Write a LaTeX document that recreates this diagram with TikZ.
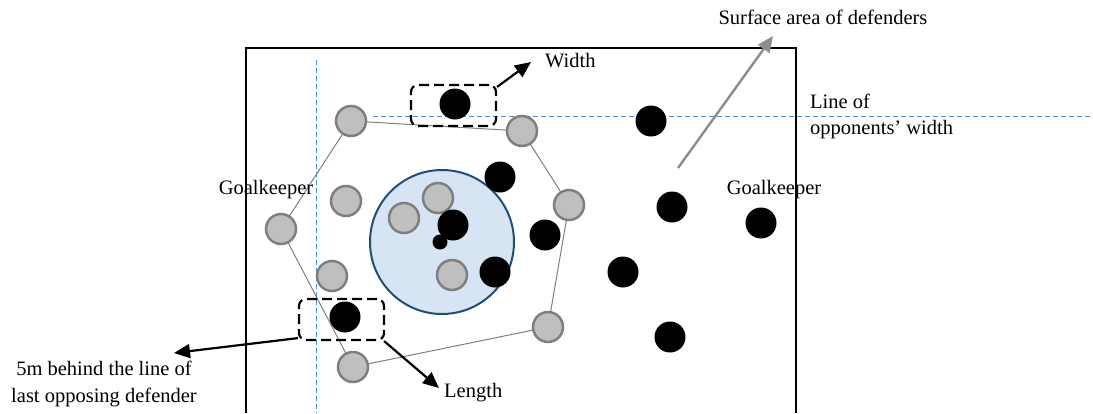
\documentclass[tikz,border=0pt]{standalone}
\usepackage{fontspec}
\setmainfont{Liberation Serif}
\usetikzlibrary{arrows.meta}
\definecolor{gfill}{HTML}{BFBFBF}
\definecolor{gline}{HTML}{7F7F7F}
\definecolor{zonefill}{HTML}{D6E4F3}
\definecolor{zoneline}{HTML}{1F4E79}
\definecolor{guide}{HTML}{4A90D9}
\definecolor{arrgray}{HTML}{8C8C8C}
\tikzset{
  gp/.style={circle, minimum size=30, inner sep=0, fill=gfill, draw=gline, line width=2.5},
  bp/.style={circle, minimum size=31, inner sep=0, fill=black},
  sbp/.style={circle, minimum size=15, inner sep=0, fill=black},
  zone/.style={circle, minimum size=144, inner sep=0, fill=zonefill, draw=zoneline, line width=2},
  dbox/.style={draw=black, dashed, dash pattern=on 10 off 5, line width=2.2, rounded corners=7, minimum width=85, minimum height=41, inner sep=0},
  lbl/.style={font=\fontsize{20.5}{24}\selectfont, inner sep=0},
  guideline/.style={guide, line width=1, dash pattern=on 5 off 3},
  poly/.style={gline, line width=1},
  arr/.style={line width=2.2, -{Triangle[length=16, width=14]}},
  garr/.style={arrgray, line width=2.4, -{Triangle[length=16, width=14]}}
}
\begin{document}
\begin{tikzpicture}[x=1pt, y=-1pt]
\useasboundingbox (0,0) rectangle (1093,413);
% field
\draw[line width=2] (246,413) -- (246,48) -- (796,48) -- (796,413);
% guide lines
\draw[guideline] (316,60) -- (316,413);
\draw[guideline] (373,116) -- (1093,116);
% gray player positions
\coordinate (c1) at (351,121);
\coordinate (c2) at (522,131);
\coordinate (c3) at (569,205);
\coordinate (c4) at (548,327);
\coordinate (c5) at (353,367);
\coordinate (c6) at (281,229);
\draw[poly] (c1) -- (c2) -- (c3) -- (c4) -- (c5) -- (c6) -- cycle;
% zone
\node[zone] (zone) at (442,242) {};
% gray players
\node[gp] (g1) at (c1) {};
\node[gp] (g2) at (c2) {};
\node[gp] (g3) at (c3) {};
\node[gp] (g4) at (c4) {};
\node[gp] (g5) at (c5) {};
\node[gp] (g6) at (c6) {};
\node[gp] (g7) at (346,201) {};
\node[gp] (g8) at (438,198) {};
\node[gp] (g9) at (404,218) {};
\node[gp] (g10) at (332,276) {};
\node[gp] (g11) at (452,275) {};
% black players
\node[bp] (b1) at (455,104) {};
\node[bp] (b2) at (651,121) {};
\node[bp] (b3) at (500,177) {};
\node[bp] (b4) at (453,225) {};
\node[sbp] (ball) at (440,242) {};
\node[bp] (b5) at (545,235) {};
\node[bp] (b6) at (495,272) {};
\node[bp] (b7) at (672,207) {};
\node[bp] (b8) at (761,223) {};
\node[bp] (b9) at (623,272) {};
\node[bp] (b10) at (670,337) {};
\node[bp] (b11) at (345,317) {};
% dashed boxes
\node[dbox] (wbox) at (453.5,105.5) {};
\node[dbox] (lbox) at (341.5,319.5) {};
% labels
\node[lbl, anchor=west] (wtxt) at (545,61) {Width};
\node[lbl, anchor=west] (ltxt) at (444,393) {Length};
\node[lbl] (gkl) at (266,190) {Goalkeeper};
\node[lbl] (gkr) at (774,190) {Goalkeeper};
\node[lbl] (sa) at (823,17) {Surface area of defenders};
\node[lbl, anchor=west, align=left] (lw) at (810,116) {Line of\\[2pt]opponents’ width};
\node[lbl, align=center] (fm) at (104,384) {5m behind the line of\\[3pt]last opposing defender};
% arrows
\coordinate (wtip) at (531,62);
\coordinate (ltip) at (439,388);
\coordinate (ftip) at (174,353);
\coordinate (stip) at (773,36);
\coordinate (sstart) at (678,168);
\draw[arr] ([yshift=-3]wbox.north east) -- (wtip);
\draw[arr] ([xshift=-1]lbox.south east) -- (ltip);
\draw[arr] ([yshift=3]lbox.south west) -- (ftip);
\draw[garr] (sstart) -- (stip);
\end{tikzpicture}
\end{document}
